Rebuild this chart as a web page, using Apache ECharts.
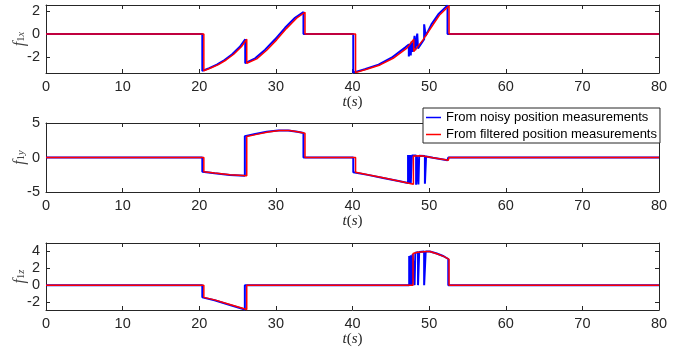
<!DOCTYPE html>
<html>
<head>
<meta charset="utf-8">
<script src="https://cdn.jsdelivr.net/npm/echarts@6/dist/echarts.min.js"></script>
<style>html,body{margin:0;padding:0;background:#fff}#c{width:693px;height:352px}</style>
</head>
<body>
<div id="c"></div>
<script>
// ---- data (t in s, force values) ----
const xTicks = [0, 10, 20, 30, 40, 50, 60, 70, 80];
const yTicks1 = [-2, 0, 2];
const yTicks2 = [-5, 0, 5];
const yTicks3 = [-2, 0, 2, 4];
const legendNames = ['From noisy position measurements', 'From filtered position measurements'];

const noisyX = [[0,0],[20.4,0],[20.4,-3.2],[21.3,-2.95],[22.3,-2.65],[23.3,-2.25],[24.3,-1.75],[25.3,-1.1],[26.0,-0.45],[26.0,-2.53],[27.3,-2.1],[28.6,-1.35],[29.9,-0.45],[31.2,0.55],[32.5,1.42],[33.6,1.92],[33.6,0],[40.1,0],[40.1,-3.35],[41.6,-3.05],[43.4,-2.65],[45.1,-2.05],[46.9,-1.15],[47.35,-0.9],[47.35,-1.95],[47.45,-1.9],[47.45,-0.85],[47.6,-0.75],[47.6,-1.85],[47.7,-1.8],[47.7,-0.65],[47.85,-0.5],[47.85,-1.55],[48.1,-1.45],[48.1,-0.15],[48.2,-0.1],[48.2,-1.4],[48.45,-1.3],[48.45,0.05],[48.55,0.05],[48.55,-1.25],[49.35,-0.45],[49.35,0.85],[49.55,0.9],[49.55,-0.15],[50.3,0.85],[51.2,1.72],[52.4,2.5],[52.4,0],[80,0]];
const filteredX = [[0,0],[20.6,0],[20.6,-3.2],[21.5,-2.95],[22.5,-2.65],[23.5,-2.25],[24.5,-1.75],[25.5,-1.1],[26.2,-0.45],[26.2,-2.53],[27.5,-2.15],[28.8,-1.4],[30.1,-0.5],[31.4,0.5],[32.7,1.38],[33.8,1.9],[33.8,0],[40.4,0],[40.4,-3.35],[41.85,-3.06],[43.6,-2.68],[45.3,-2.1],[47.1,-1.22],[48.0,-0.44],[48.0,-1.52],[49.2,-0.5],[50.5,0.81],[51.4,1.69],[52.6,2.47],[52.6,0],[80,0]];

const noisyY = [[0,0],[20.4,0],[20.4,-2.05],[22,-2.27],[24,-2.52],[25.95,-2.65],[25.95,3.1],[27.3,3.4],[28.8,3.72],[30.3,3.93],[31.6,3.9],[32.8,3.72],[33.6,3.55],[33.6,0],[40.1,0],[40.1,-2.13],[42,-2.52],[44,-2.98],[46,-3.42],[47.25,-3.7],[47.25,0.35],[47.35,0.35],[47.35,-3.72],[47.5,-3.75],[47.5,0.35],[47.6,0.35],[47.6,-3.8],[47.75,-3.82],[47.75,0.3],[48.3,0.3],[48.3,-3.95],[48.4,-3.95],[48.4,0.3],[48.6,0.3],[48.6,-3.9],[48.7,-3.9],[48.7,0.25],[49.45,0.2],[49.45,-3.8],[49.6,-3.8],[49.6,0.15],[50.5,-0.05],[52.4,-0.4],[52.5,0],[80,0]];
const filteredY = [[0,0],[20.6,0],[20.6,-2.05],[22,-2.25],[24,-2.5],[26.2,-2.65],[26.2,3.05],[27.5,3.35],[29,3.7],[30.5,3.93],[31.8,3.9],[33.0,3.7],[33.8,3.5],[33.8,0],[40.4,0],[40.4,-2.13],[42,-2.5],[44,-2.95],[46,-3.4],[47.95,-3.88],[47.95,0.2],[49,0.25],[50.5,-0.05],[52.5,-0.4],[52.6,0],[80,0]];

const noisyZ = [[0,0],[20.4,0],[20.4,-1.45],[22,-1.8],[24,-2.35],[25.95,-2.9],[25.95,0],[47.4,0],[47.4,3.45],[47.5,3.5],[47.5,0],[47.6,0],[47.6,3.55],[47.75,3.6],[47.75,0],[47.85,0],[47.85,3.7],[48.1,3.8],[48.1,0],[48.2,0],[48.2,3.85],[48.55,3.9],[48.55,0],[48.7,0],[48.7,3.92],[49.35,4.0],[49.35,0],[49.55,0],[49.55,4.0],[50.1,4.0],[51,3.75],[51.9,3.43],[52.5,3.1],[52.5,0],[80,0]];
const filteredZ = [[0,0],[20.6,0],[20.6,-1.45],[22,-1.75],[24,-2.3],[26.2,-2.9],[26.2,0],[47.9,0],[47.9,3.75],[48.5,3.9],[49.7,4.0],[50.1,4.0],[51.0,3.73],[51.9,3.41],[52.6,3.06],[52.6,0],[80,0]];

// ---- layout ----
const grids = [
  {left: 46, top: 5, width: 613, height: 68, outerBoundsMode: 'none', containLabel: false},
  {left: 46, top: 123, width: 613, height: 69, outerBoundsMode: 'none', containLabel: false},
  {left: 46, top: 243, width: 613, height: 67, outerBoundsMode: 'none', containLabel: false}
];
const yRanges = [[-3.38, 2.53], [-5, 5], [-2.95, 5]];
const yTickSets = [yTicks1, yTicks2, yTicks3];
const yNames = ['{i|f}{s|1}{si|x}', '{i|f}{s|1}{si|y}', '{i|f}{s|1}{si|z}'];
const axisColor = '#262626';
const labelFont = 'Liberation Sans, Arial, sans-serif';
const serif = 'Liberation Serif, Times New Roman, serif';

const xAxes = [], yAxes = [], series = [];
grids.forEach((g, i) => {
  xAxes.push({
    type: 'value', gridIndex: i, min: 0, max: 80, interval: 10, position: 'bottom',
    axisLine: {show: true, onZero: false, lineStyle: {color: axisColor, width: 1}},
    axisTick: {show: true, inside: true, length: 4, lineStyle: {color: axisColor}},
    axisLabel: {show: true, margin: 6, color: axisColor, fontSize: 14.5, fontFamily: labelFont},
    splitLine: {show: false},
    name: '{i|t}{n|(}{i|s}{n|)}', nameLocation: 'middle', nameGap: 22, nameMoveOverlap: false,
    nameTextStyle: {rich: {
      i: {fontFamily: serif, fontStyle: 'italic', fontSize: 15, color: '#262626'},
      n: {fontFamily: serif, fontSize: 15, color: '#262626'}
    }}
  });
  xAxes.push({
    type: 'value', gridIndex: i, min: 0, max: 80, interval: 10, position: 'top',
    axisLine: {show: true, onZero: false, lineStyle: {color: axisColor, width: 1}},
    axisTick: {show: true, inside: true, length: 4, lineStyle: {color: axisColor}},
    axisLabel: {show: false}, splitLine: {show: false}
  });
  const [mn, mx] = yRanges[i];
  const common = {
    type: 'value', gridIndex: i, min: mn, max: mx,
    axisLine: {show: true, onZero: false, lineStyle: {color: axisColor, width: 1}},
    splitLine: {show: false}
  };
  yAxes.push(Object.assign({}, common, {
    position: 'left',
    axisTick: {show: true, inside: true, length: 4, customValues: yTickSets[i], lineStyle: {color: axisColor}},
    axisLabel: {show: true, margin: 6, color: axisColor, fontSize: 14.5, fontFamily: labelFont, customValues: yTickSets[i]},
    name: yNames[i], nameLocation: 'middle', nameGap: 19, nameRotate: 90, nameMoveOverlap: false,
    nameTextStyle: {rich: {
      i: {fontFamily: serif, fontStyle: 'italic', fontSize: 16, color: '#404040', lineHeight: 14},
      s: {fontFamily: serif, fontSize: 10.5, color: '#404040', lineHeight: 14, verticalAlign: 'bottom', padding: [5, 0, 0, 0]},
      si: {fontFamily: serif, fontStyle: 'italic', fontSize: 10.5, color: '#404040', lineHeight: 14, verticalAlign: 'bottom', padding: [5, 0, 0, 0]}
    }}
  }));
  yAxes.push(Object.assign({}, common, {
    position: 'right',
    axisTick: {show: true, inside: true, length: 4, customValues: yTickSets[i], lineStyle: {color: axisColor}},
    axisLabel: {show: false, customValues: yTickSets[i]}
  }));
});

const noisySets = [noisyX, noisyY, noisyZ];
const filteredSets = [filteredX, filteredY, filteredZ];
for (let i = 0; i < 3; i++) {
  series.push({
    name: legendNames[0], type: 'line', xAxisIndex: 2 * i, yAxisIndex: 2 * i,
    data: noisySets[i], showSymbol: false, symbol: 'none', clip: true,
    lineStyle: {color: '#0000ff', width: 2}, itemStyle: {color: '#0000ff'}, z: 2
  });
  series.push({
    name: legendNames[1], type: 'line', xAxisIndex: 2 * i, yAxisIndex: 2 * i,
    data: filteredSets[i], showSymbol: false, symbol: 'none', clip: true,
    lineStyle: {color: '#ff0000', width: 1.5}, itemStyle: {color: '#ff0000'}, z: 3
  });
}

const chart = echarts.init(document.getElementById('c'), null, {renderer: 'canvas'});
chart.setOption({
  animation: false,
  backgroundColor: '#ffffff',
  grid: grids,
  xAxis: xAxes,
  yAxis: yAxes,
  legend: {
    data: legendNames, orient: 'vertical', left: 423, top: 108,
    itemWidth: 15, itemHeight: 1.5, itemGap: 4, icon: 'rect',
    padding: [3, 3, 2, 3],
    backgroundColor: '#ffffff', borderColor: '#262626', borderWidth: 1,
    textStyle: {fontFamily: labelFont, fontSize: 13, color: '#000000'},
    z: 10
  },
  series: series
});
</script>
</body>
</html>
